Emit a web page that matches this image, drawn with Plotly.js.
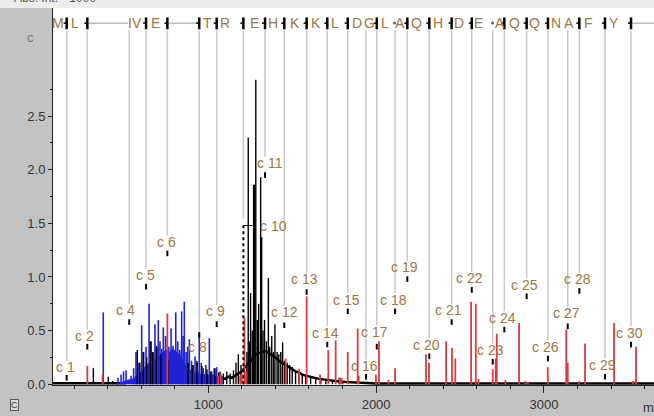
<!DOCTYPE html>
<html><head><meta charset="utf-8">
<script src="https://cdn.plot.ly/plotly-3.0.1.min.js"></script>
<style>html,body{margin:0;padding:0;background:#c3c3c3}#chart{width:654px;height:416px}</style>
</head><body><div id="chart"></div>
<script>
// ---- c-ion annotations ----
const cNames = ['c 1','c 2','c 4','c 5','c 6','c 8','c 9','c 10','c 11','c 12','c 13','c 14','c 15','c 16','c 17','c 18','c 19','c 20','c 21','c 22','c 23','c 24','c 25','c 26','c 27','c 28','c 29','c 30'];
const cMz = [156,279,529,629,756,946,1050,1209,1338,1453,1586,1709,1831,1940,2004,2113,2186,2317,2450,2570,2695,2764,2897,3024,3142,3211,3364,3519];
const cLabelMz = [146,265,509,623,748,933,1040,1391,1368,1457,1576,1701,1821,1931,1993,2104,2172,2303,2434,2559,2683,2756,2887,3012,3132,3201,3350,3509];
const cLabelY = [0.16,0.45,0.69,1.02,1.33,0.35,0.68,1.48,2.06,0.67,0.98,0.48,0.79,0.17,0.49,0.79,1.09,0.37,0.69,0.99,0.32,0.62,0.93,0.35,0.66,0.98,0.18,0.48];
const cDotY = [0.06,0.35,0.58,0.91,1.22,0.46,0.56,null,1.95,0.55,0.86,0.37,0.68,0.07,0.35,0.68,0.98,0.26,0.58,0.88,0.21,0.51,0.82,0.24,0.54,0.87,0.07,0.37];

// ---- sequence row ----
const seqLetters = ['M','L','I','V','E','T','R','E','H','K','K','L','D','G','L','A','Q','H','D','E','A','Q','Q','N','A','F','Y'];
const seqMz = [104,206,534,575,683,998,1099,1278,1385,1517,1642,1755,1886,1958,2053,2145,2238,2369,2494,2613,2736,2822,2941,3072,3150,3263,3418];
const tickMz = [156,279,629,756,946,1050,1209,1338,1453,1586,1709,1831,2004,2186,2317,2450,2570,2764,2897,3024,3211,3364,3519];
const seqDotMz = [2110,2694];
const rowSegStart = [279,756,3519];
const rowSegEnd = [520,946,3656];

// ---- spectrum: annotated (red) peaks ----
const redMz = [279,370,756,1060,1075,1190,1200,1215,1225,1461,1541,1586,1666,1715,1759,1785,1795,1831,1890,1896,1999,2017,2073,2113,2297,2315,2417,2452,2472,2566,2594,2610,2695,2713,2719,2770,2852,2890,2905,3023,3133,3142,3211,3245,3418,3530,3549];
const redInt = [0.17,0.09,0.66,0.08,0.10,0.08,0.10,0.62,0.12,0.24,0.14,0.82,0.09,0.32,0.41,0.06,0.06,0.30,0.52,0.08,0.09,0.40,0.04,0.15,0.28,0.20,0.40,0.34,0.24,0.77,0.75,0.05,0.14,0.24,0.47,0.04,0.57,0.03,0.02,0.16,0.51,0.20,0.03,0.38,0.57,0.03,0.35];

// ---- blue peaks ----
const blueMz = [374,462,480,495,510,540,555,569,585,603,615,629,647,660,672,682,695,702,712,722,732,745,765,778,790,806,818,830,841,850,857,868,877,887,900,910,921,935,946,958,970,985,1006,1020,1035,1050,1070,1080];
const blueInt = [0.67,0.06,0.09,0.12,0.13,0.08,0.15,0.30,0.20,0.55,0.30,0.35,0.75,0.40,0.30,0.56,0.35,0.60,0.40,0.33,0.53,0.45,0.35,0.52,0.36,0.67,0.40,0.32,0.68,0.45,0.77,0.30,0.35,0.42,0.22,0.18,0.26,0.20,0.47,0.20,0.15,0.18,0.43,0.12,0.15,0.16,0.12,0.08];
const blueFillMz = [450,480,520,550,570,590,610,630,650,670,690,710,730,750,770,790,810,830,850,870,890,910,930,950,970,990,1010,1030,1050,1070,1085];
const blueFillInt = [0.0,0.02,0.04,0.05,0.08,0.10,0.14,0.18,0.20,0.24,0.22,0.27,0.30,0.32,0.30,0.33,0.30,0.28,0.22,0.18,0.14,0.10,0.12,0.10,0.09,0.10,0.08,0.09,0.07,0.06,0.0];

// ---- black (raw) peaks ----
const blackMz = [315,404,430,577,592,612,633,655,668,690,718,760,880,905,932,962,992,1015,1040,1062,1090,1110,1130,1150,1165,1179,1195,1230,1238,1246,1252,1262,1270,1276,1283,1292,1300,1312,1318,1326,1335,1346,1358,1366,1378,1388,1397,1410,1420,1432,1443,1455,1470,1485,1500,1520,1540,1560,1580,1610,1640,1670,1700,1740,1780,1800];
const blackInt = [0.15,0.07,0.03,0.32,0.20,0.30,0.25,0.40,0.30,0.36,0.28,0.22,0.20,0.18,0.22,0.17,0.14,0.12,0.15,0.11,0.10,0.12,0.10,0.13,0.20,0.28,0.18,0.30,2.30,0.40,0.85,0.50,1.86,1.86,2.84,0.60,0.75,1.93,1.37,0.50,0.60,0.40,0.99,0.35,0.45,0.30,0.56,0.30,0.28,0.30,0.39,0.22,0.20,0.18,0.16,0.13,0.12,0.10,0.09,0.07,0.06,0.05,0.04,0.035,0.06,0.03];
const envMz = [75,300,500,540,1080,1100,1120,1140,1160,1180,1200,1220,1240,1260,1280,1300,1320,1340,1360,1380,1400,1420,1440,1460,1480,1500,1520,1540,1560,1580,1600,1630,1660,1700,1740,1780,1820,1870,1920,2000,2500,3656];
const envInt = [0.01,0.01,0.01,0.02,0.06,0.05,0.07,0.06,0.08,0.10,0.12,0.16,0.20,0.24,0.27,0.29,0.30,0.31,0.29,0.27,0.25,0.22,0.20,0.18,0.16,0.14,0.12,0.11,0.09,0.08,0.07,0.06,0.05,0.04,0.03,0.025,0.02,0.015,0.01,0.008,0.006,0.006];

// ---- axis ticks ----
const xTickVals = [1000,2000,3000];
const yTickVals = [0,0.5,1.0,1.5,2.0,2.5];
const yTickText = ['0.0','0.5','1.0','1.5','2.0','2.5'];

function sticks(mz, it){ const x=[],y=[]; mz.forEach((m,i)=>{x.push(m,m,null); y.push(0,it[i],null);}); return {x,y}; }

const LABEL = '#a27640';
const ROWY = 3.367, LINETOP = 3.30;

const b = sticks(blueMz, blueInt), k = sticks(blackMz, blackInt), r = sticks(redMz, redInt);
const traces = [
  {type:'scatter', mode:'lines', x:envMz, y:envInt, line:{color:'#000', width:2.5}, hoverinfo:'skip'},
  {type:'scatter', mode:'lines', x:blueFillMz, y:blueFillInt, fill:'tozeroy', fillcolor:'#2222d6', line:{color:'#2222d6', width:0.5}, hoverinfo:'skip'},
  {type:'scatter', mode:'lines', x:b.x, y:b.y, line:{color:'#2222d6', width:1.6}, hoverinfo:'skip'},
  {type:'scatter', mode:'lines', x:k.x, y:k.y, line:{color:'#000', width:1.4}, hoverinfo:'skip'},
  {type:'scatter', mode:'lines', x:r.x, y:r.y, line:{color:'#e03a3e', width:1.8}, hoverinfo:'skip'},
  {type:'scatter', mode:'markers', x:cMz, y:cDotY, marker:{symbol:'line-ns', size:4, line:{color:'#000', width:2}}, hoverinfo:'skip'},
  {type:'scatter', mode:'markers', x:seqDotMz, y:seqDotMz.map(()=>ROWY), marker:{symbol:'circle', size:3, color:'#666'}, hoverinfo:'skip'}
];

const shapes = [];
// top light strip
shapes.push({type:'rect', xref:'paper', yref:'paper', x0:-0.1, x1:1.01, y0:1, y1:1.03, fillcolor:'#ededed', line:{width:0}, layer:'above'});
cMz.forEach((m,i)=>{
  const end = Math.max(cLabelY[i]+0.06, cDotY[i]===null ? 0 : cDotY[i]);
  shapes.push({type:'line', xref:'x', yref:'y', x0:m, x1:m, y0:end, y1:LINETOP, line:{color:'#c9c9c9', width:1.5}, layer:'below'});
});
// c10 dotted marker
shapes.push({type:'line', xref:'x', yref:'y', x0:cMz[7], x1:cMz[7], y0:0, y1:cLabelY[7], line:{color:'#000', width:2, dash:'dot'}});
shapes.push({type:'line', xref:'x', yref:'y', x0:cMz[7], x1:cLabelMz[7]-70, y0:cLabelY[7], y1:cLabelY[7], line:{color:'#000', width:1, dash:'dash'}});
// sequence row segments
rowSegStart.forEach((s,i)=>{
  shapes.push({type:'line', xref:'x', yref:'y', x0:s, x1:rowSegEnd[i], y0:ROWY, y1:ROWY, line:{color:'#999', width:1}});
});
tickMz.forEach(m=>{
  shapes.push({type:'line', xref:'x', yref:'y', x0:m, x1:m, y0:3.31, y1:3.42, line:{color:'#000', width:2.5}});
  shapes.push({type:'line', xref:'x', yref:'y', x0:m-18, x1:m+4, y0:ROWY, y1:ROWY, line:{color:'#000', width:1.5}});
});

const annotations = [];
cNames.forEach((n,i)=>{
  annotations.push({x:cLabelMz[i], y:cLabelY[i], xref:'x', yref:'y', text:n, showarrow:false, font:{family:'Arial, Liberation Sans', size:14, color:LABEL}});
});
seqLetters.forEach((l,i)=>{
  annotations.push({x:seqMz[i], y:ROWY, xref:'x', yref:'y', text:l, showarrow:false, font:{family:'Arial, Liberation Sans', size:14, color:LABEL}});
});
annotations.push({xref:'paper', yref:'paper', x:-0.0466, y:0.947, text:'c', showarrow:false, font:{family:'Arial', size:13, color:'#777'}});
annotations.push({xref:'paper', yref:'paper', x:-0.068, xanchor:'left', y:1.0275, yanchor:'middle', text:'Abs. Int. * 1000', showarrow:false, font:{family:'Arial', size:12, color:'#555'}});
annotations.push({xref:'paper', yref:'paper', x:0.978, xanchor:'left', y:-0.061, yanchor:'middle', text:'m/z', showarrow:false, font:{family:'Arial', size:13, color:'#333'}});
annotations.push({xref:'paper', yref:'paper', x:-0.072, y:-0.053, yanchor:'middle', text:'C', showarrow:false, bgcolor:'#dcdcdc', bordercolor:'#555', borderwidth:1, borderpad:0, font:{family:'Arial', size:9, color:'#333'}});

const layout = {
  width:654, height:416,
  margin:{l:53, r:0, t:8, b:31},
  paper_bgcolor:'#c3c3c3', plot_bgcolor:'#ffffff',
  showlegend:false,
  xaxis:{range:[74.5,3656], tickvals:xTickVals, ticktext:xTickVals.map(String), ticks:'outside', ticklen:7, tickwidth:1, tickcolor:'#222',
         showline:true, linecolor:'#222', linewidth:1, showgrid:false, zeroline:false,
         minor:{dtick:200, tick0:0, ticks:'outside', ticklen:3, tickcolor:'#222', showgrid:false},
         tickfont:{family:'Arial, Liberation Sans', size:13, color:'#333'}},
  yaxis:{range:[-0.007,3.508], tickvals:yTickVals, ticktext:yTickText, ticks:'outside', ticklen:4, tickwidth:1, tickcolor:'#222',
         showline:true, linecolor:'#222', linewidth:1, showgrid:false, zeroline:false,
         minor:{tickvals:[0.25,0.75,1.25,1.75,2.25,2.75], ticks:'outside', ticklen:2, tickcolor:'#222', showgrid:false},
         tickfont:{family:'Arial, Liberation Sans', size:13, color:'#333'}},
  shapes:shapes, annotations:annotations
};
Plotly.newPlot('chart', traces, layout, {displayModeBar:false, staticPlot:true});
</script></body></html>
